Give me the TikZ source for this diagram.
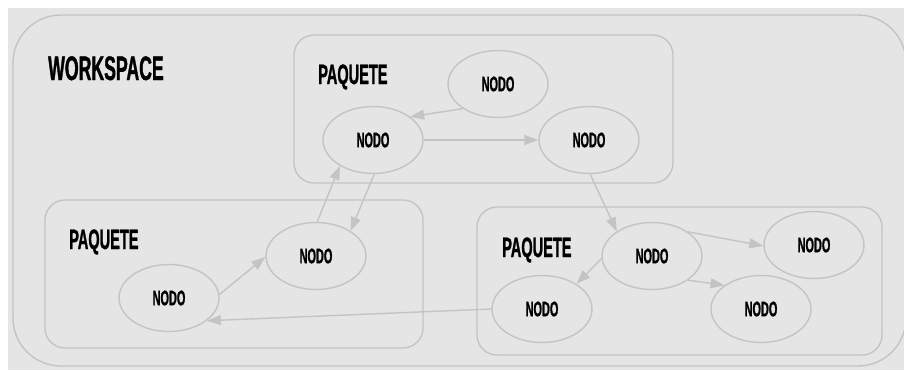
\documentclass[tikz,border=0pt]{standalone}
\usepackage{fontspec}
\newfontfamily\bebas{Liberation Sans}[FakeStretch=0.52,FakeBold=1]
\usepackage{tikz}
\usetikzlibrary{shapes.geometric,arrows.meta}
\definecolor{fondo}{HTML}{E5E5E5}
\definecolor{borde}{HTML}{C4C4C4}
\tikzstyle{nodo}=[ellipse, draw=borde, line width=1.4pt, minimum width=100pt, minimum height=67pt, font=\bebas\bfseries\fontsize{21}{22}\selectfont]
\tikzstyle{paquete}=[draw=borde, line width=1.4pt, rounded corners=20pt]
\tikzstyle{titulo}=[anchor=base west, inner sep=0pt, font=\bebas\bfseries\fontsize{28}{30}\selectfont]
\tikzstyle{flecha}=[draw=borde, line width=1.4pt, -{Triangle[length=14pt,width=10pt]}]
\newcommand{\nodo}[2]{
	\node[nodo] (#1) at (#2) {NODO};}

\begin{document}
\begin{tikzpicture}[x=1pt,y=-1pt]
	\useasboundingbox (0,0) rectangle (904,370);
	\fill[fondo] (8,8) rectangle (904,370);
	\draw[borde, line width=1.4pt, rounded corners=48pt] (13,15) rectangle (906,366);
	\node[titulo, font=\bebas\bfseries\fontsize{34}{36}\selectfont] (ws) at (48,80) {WORKSPACE};

	% paquete de arriba
	\draw[paquete] (294,35) rectangle (673,183);
	\node[titulo] (ta) at (318,84) {PAQUETE};
	\nodo{a1}{498,84}
	\nodo{a2}{373,140}
	\nodo{a3}{589,140}

	% paquete izquierdo
	\draw[paquete] (45,200) rectangle (423,348);
	\node[titulo] (tb) at (69,249) {PAQUETE};
	\nodo{b1}{169,298}
	\nodo{b2}{316,256}

	% paquete derecho
	\draw[paquete] (477,207) rectangle (882,355);
	\node[titulo] (tc) at (502,257) {PAQUETE};
	\nodo{c1}{652,256}
	\nodo{c2}{814,245}
	\nodo{c3}{542,309}
	\nodo{c4}{761,309}

	\draw[flecha] (a1.215) -- (a2.32);
	\draw[flecha] (a2.east) -- (a3.west);
	\draw[flecha] (a3.272) -- (c1.145);
	\draw[flecha] (b2.88) -- (a2.218);
	\draw[flecha] (a2.272) -- (b2.36);
	\draw[flecha] (b1.4) -- (b2.181);
	\draw[flecha] (c3.west) -- (b1.329);
	\draw[flecha] (c1.183) -- (c3.36);
	\draw[flecha] (c1.34) -- (c2.181);
	\draw[flecha] (c1.326) -- (c4.147);
\end{tikzpicture}
\end{document}
